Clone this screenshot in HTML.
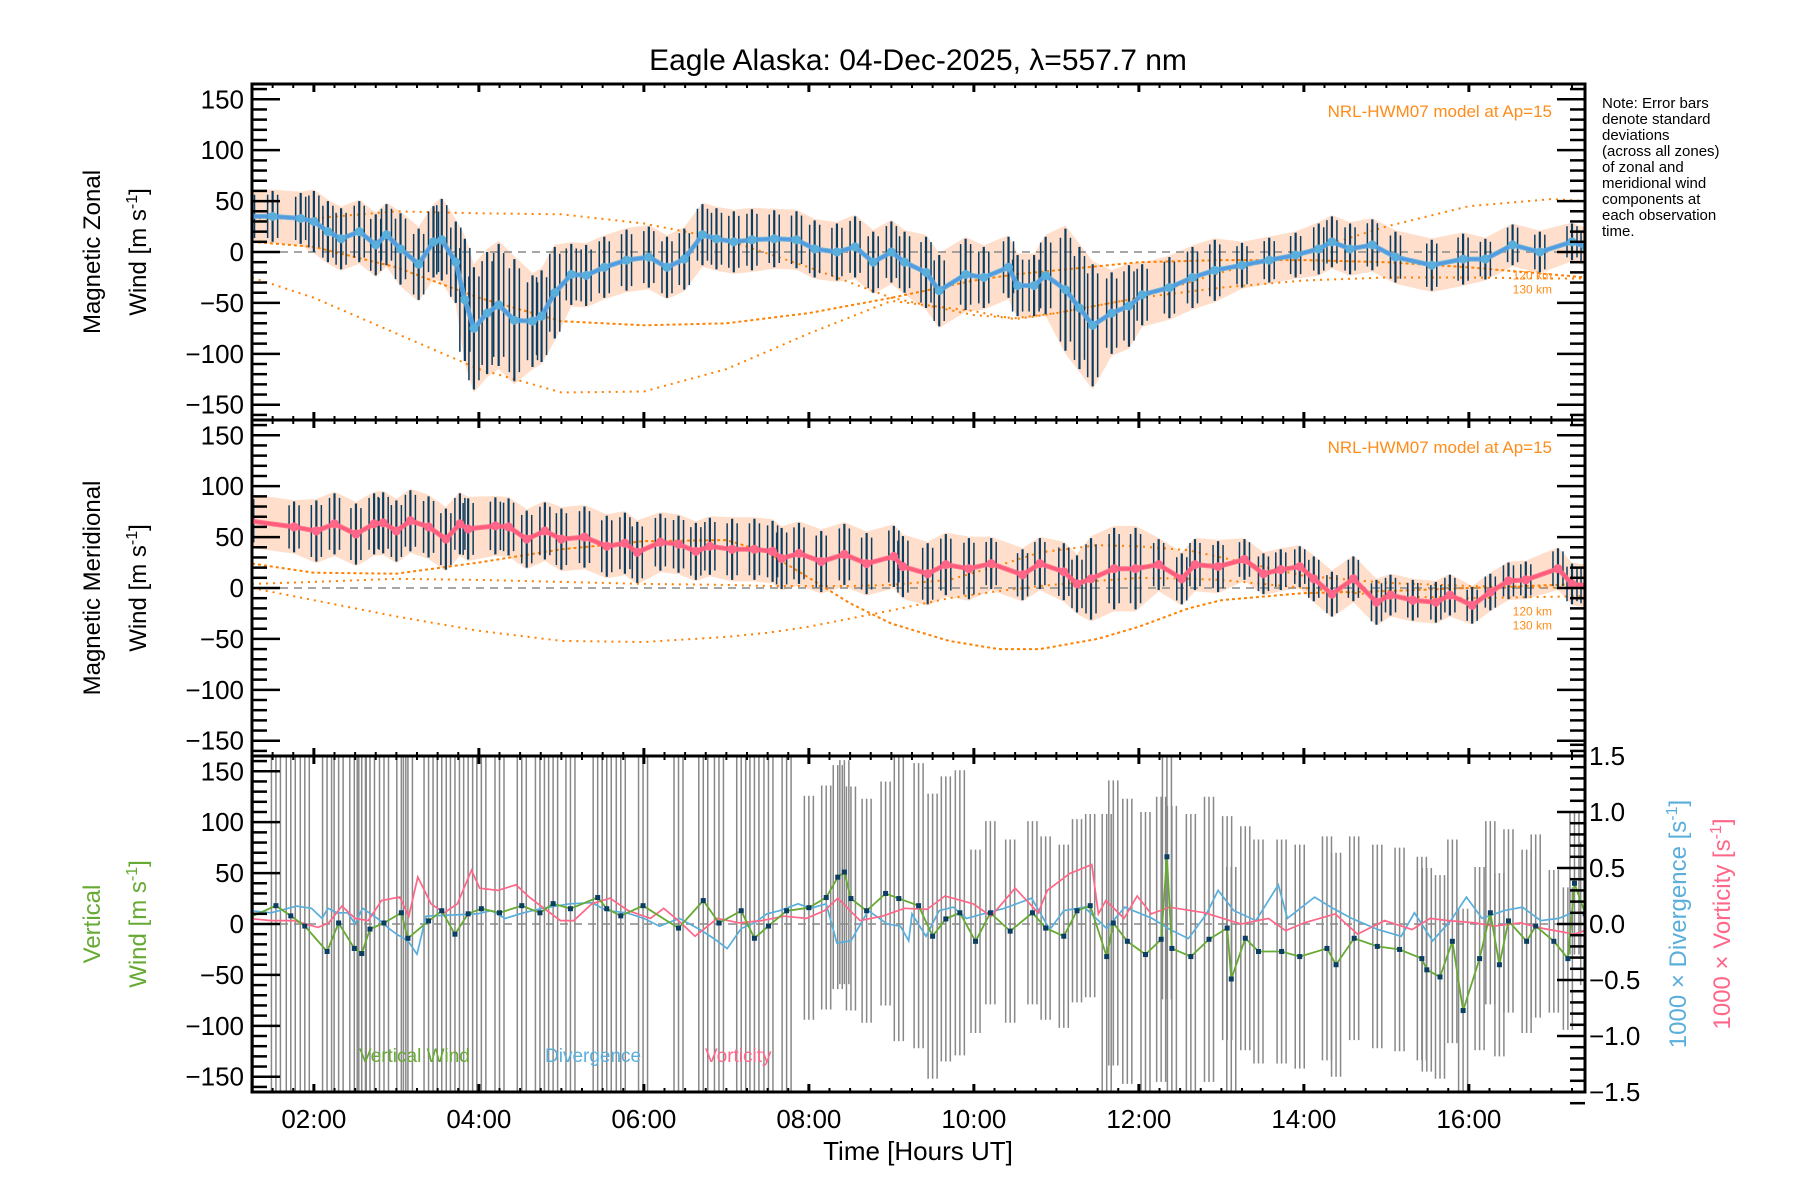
<!DOCTYPE html>
<html><head><meta charset="utf-8"><style>
html,body{margin:0;padding:0;background:#fff}
svg{display:block}
text{font-family:"Liberation Sans",sans-serif}
</style></head><body>
<svg id="chart" width="1800" height="1200" viewBox="0 0 1800 1200" xmlns="http://www.w3.org/2000/svg">
<text x="918" y="70" font-size="30" text-anchor="middle">Eagle Alaska: 04-Dec-2025, λ=557.7 nm</text>
<g font-size="15" fill="#000">
<text x="1602" y="108">Note: Error bars</text>
<text x="1602" y="124">denote standard</text>
<text x="1602" y="140">deviations</text>
<text x="1602" y="156">(across all zones)</text>
<text x="1602" y="172">of zonal and</text>
<text x="1602" y="188">meridional wind</text>
<text x="1602" y="204">components at</text>
<text x="1602" y="220">each observation</text>
<text x="1602" y="236">time.</text>
</g>
<g id="plots"></g>
<g font-size="24">
<text transform="translate(100,252) rotate(-90)" text-anchor="middle">Magnetic Zonal</text>
<text transform="translate(146,252) rotate(-90)" text-anchor="middle">Wind [m s<tspan dy="-9" font-size="16">-1</tspan><tspan dy="9">]</tspan></text>
</g>
<g font-size="24">
<text transform="translate(100,588) rotate(-90)" text-anchor="middle">Magnetic Meridional</text>
<text transform="translate(146,588) rotate(-90)" text-anchor="middle">Wind [m s<tspan dy="-9" font-size="16">-1</tspan><tspan dy="9">]</tspan></text>
</g>
<g font-size="24" fill="#66aa33">
<text transform="translate(100,924) rotate(-90)" text-anchor="middle">Vertical</text>
<text transform="translate(146,924) rotate(-90)" text-anchor="middle">Wind [m s<tspan dy="-9" font-size="16">-1</tspan><tspan dy="9">]</tspan></text>
</g>
<text transform="translate(1686,924) rotate(-90)" text-anchor="middle" font-size="24" fill="#5aaedc">1000 × Divergence [s<tspan dy="-9" font-size="16">-1</tspan><tspan dy="9">]</tspan></text>
<text transform="translate(1730,924) rotate(-90)" text-anchor="middle" font-size="24" fill="#ff6688">1000 × Vorticity [s<tspan dy="-9" font-size="16">-1</tspan><tspan dy="9">]</tspan></text>
<text x="918" y="1160" font-size="26" text-anchor="middle">Time [Hours UT]</text>
<text x="359" y="1062" font-size="19" fill="#66aa33">Vertical Wind</text>
<text x="545" y="1062" font-size="19" fill="#5aaedc">Divergence</text>
<text x="705" y="1062" font-size="19" fill="#ff6688">Vorticity</text>
</svg>
<script>
// ---- data ----
const xTickHours = [2,4,6,8,10,12,14,16];
const xTickLabels = ["02:00","04:00","06:00","08:00","10:00","12:00","14:00","16:00"];
const yTicks = [150,100,50,0,-50,-100,-150];
const rightTicks = [1.5,1.0,0.5,0.0,-0.5,-1.0,-1.5];
const rightTickLabels = ["1.5","1.0","0.5","0.0","-0.5","-1.0","-1.5"];

const zonHours = [1.22,1.5,1.84,2.0,2.17,2.33,2.55,2.75,2.88,3.05,3.27,3.45,3.55,3.72,3.83,3.94,4.1,4.24,4.43,4.65,4.76,4.92,5.12,5.3,5.52,5.79,6.06,6.28,6.49,6.71,6.88,7.09,7.31,7.58,7.85,8.07,8.34,8.56,8.78,9.0,9.16,9.42,9.58,9.9,10.12,10.42,10.53,10.73,10.87,11.11,11.28,11.44,11.67,11.88,12.04,12.37,12.65,12.92,13.25,13.58,13.9,14.18,14.34,14.56,14.83,15.11,15.55,15.93,16.2,16.53,16.86,17.25,17.42];
const zonVals = [35,35,33,30,20,13,20,7,17,3,-12,10,12,-10,-47,-75,-60,-52,-67,-68,-63,-40,-22,-23,-15,-8,-5,-15,-7,17,13,10,12,13,12,3,0,5,-10,0,-10,-20,-38,-22,-25,-15,-33,-33,-23,-37,-55,-72,-60,-53,-42,-35,-25,-18,-13,-8,-3,3,10,3,7,-5,-13,-7,-7,7,0,10,5];
const zonSigHours = [1.2,2,3,3.5,3.8,4.5,5,6,6.7,7.5,8.5,9.3,10,10.8,11.1,11.5,12,13,14,15,16,17];
const zonSig = [25,30,35,40,60,45,30,30,30,28,30,35,30,38,60,40,30,22,25,25,20,18];
const zonModelHours = [1.25,2,3,4,5,6,7,8,9,10,10.5,11,12,13,14,15,16,17,17.42];
const zonModelA = [33,33,40,38,37,28,12,-15,-45,-62,-65,-60,-45,-35,-28,-25,-25,-26,-26];
const zonModelB = [10,5,-15,-45,-68,-72,-70,-60,-45,-28,-22,-18,-10,-8,-8,-10,-15,-22,-25];
const zonModelC = [-25,-45,-80,-115,-138,-137,-115,-80,-48,-58,-66,-60,-45,-20,0,25,45,52,50];

const merHours = [1.21,1.76,2.03,2.25,2.51,2.73,2.84,3.0,3.17,3.39,3.6,3.77,3.87,4.2,4.36,4.58,4.8,5.0,5.28,5.55,5.77,5.92,6.2,6.42,6.63,6.8,7.07,7.34,7.56,7.67,7.88,8.15,8.43,8.7,9.03,9.14,9.44,9.66,9.94,10.21,10.59,10.8,11.09,11.25,11.42,11.7,11.96,12.24,12.52,12.68,12.96,13.28,13.51,13.72,13.95,14.12,14.34,14.6,14.88,15.05,15.32,15.6,15.77,16.04,16.26,16.48,16.69,17.08,17.25,17.42];
const merVals = [66,60,56,63,53,63,64,56,66,60,48,63,58,61,60,48,56,48,50,41,44,35,45,43,36,41,38,38,36,29,34,26,33,24,31,21,14,23,19,24,13,24,16,4,9,19,19,23,9,23,21,28,14,18,21,9,-6,9,-14,-7,-12,-14,-7,-17,-4,7,8,19,4,2];
const merSigHours = [1.2,2,3,4,5,6,7,8,9,10,11,11.3,12,13,14,15,16,17];
const merSig = [25,30,30,28,30,28,30,30,30,25,28,40,25,20,22,20,18,20];
const merModelHours = [1.25,2,3,4,5,6,7,7.5,8,8.5,9,9.7,10.3,10.8,11.5,12,12.6,13,14,15,16,17.42];
const merModelA = [0,-12,-28,-42,-52,-53,-48,-44,-38,-30,-22,-10,-3,2,7,10,9,8,0,-8,-10,-8];
const merModelB = [24,15,14,25,38,46,47,35,10,-15,-35,-52,-60,-60,-50,-38,-20,-12,-5,-3,0,4];
const merModelC = [4,6,9,8,6,4,3,2,2,2,3,8,22,35,42,41,37,30,12,5,2,0];

const vertHours = [1.21,1.54,1.72,1.89,2.16,2.3,2.49,2.58,2.68,2.85,3.06,3.14,3.39,3.55,3.71,3.87,4.03,4.25,4.52,4.74,4.9,5.11,5.44,5.55,5.72,5.99,6.42,6.72,6.91,7.18,7.34,7.51,7.73,8.0,8.21,8.35,8.43,8.51,8.7,8.93,9.09,9.33,9.5,9.66,9.83,10.02,10.2,10.44,10.71,10.87,11.09,11.25,11.41,11.61,11.69,11.86,12.08,12.27,12.34,12.4,12.63,12.85,13.07,13.12,13.29,13.45,13.73,13.95,14.28,14.39,14.61,14.89,15.16,15.43,15.49,15.65,15.8,15.93,16.13,16.26,16.37,16.48,16.7,16.81,17.03,17.2,17.28,17.41];
const vertVals = [6,18,8,-2,-27,1,-24,-29,-5,1,11,-14,3,13,-10,10,15,11,18,11,20,15,26,15,8,18,-4,23,1,13,-14,-2,13,16,26,46,51,25,13,30,25,18,-12,5,11,-17,11,-7,11,-4,-12,13,18,-32,1,-17,-30,-15,66,-24,-32,-15,-4,-54,-14,-27,-27,-32,-24,-40,-14,-22,-25,-34,-45,-52,-17,-85,-34,11,-40,3,-17,-2,-17,-34,40,10];
const vertSigHours = [1.2,4.5,6.5,8,9,10,11.5,13,14.5,16,17];
const vertSig = [260,230,200,110,140,90,140,110,100,90,70];
const divHours = [1.21,1.48,1.79,1.97,2.1,2.17,2.28,2.41,2.5,2.59,2.77,2.91,3.0,3.14,3.25,3.36,3.98,4.15,4.32,4.54,4.77,5.1,5.37,5.55,5.79,6.0,6.19,6.43,6.68,6.85,7.01,7.18,7.34,7.49,7.65,7.87,8.02,8.21,8.34,8.51,8.72,8.95,9.11,9.21,9.25,9.42,9.58,9.75,9.91,10.16,10.37,10.7,10.92,11.09,11.34,11.61,11.83,12.16,12.38,12.6,12.82,12.96,13.15,13.42,13.69,13.8,14.13,14.35,14.58,14.9,15.18,15.34,15.56,15.78,15.97,16.16,16.43,16.65,16.87,17.09,17.25];
const divVals = [0.12,0.10,0.16,0.14,0.05,0.14,0.10,0.10,0.0,0.14,0.05,-0.04,-0.09,-0.15,-0.27,0.07,0.09,0.12,0.05,0.10,0.14,0.18,0.19,0.12,0.10,0.05,-0.02,0.05,-0.05,-0.13,-0.22,-0.04,0.01,0.09,0.12,0.18,0.14,0.18,-0.17,-0.15,0.12,0.0,-0.02,-0.15,0.09,-0.11,0.12,0.15,0.05,0.10,0.14,0.23,-0.05,0.12,0.15,-0.04,0.15,0.05,-0.05,-0.13,0.09,0.30,0.12,0.03,0.35,0.05,0.24,0.14,0.05,-0.05,-0.11,0.10,-0.15,0.03,0.24,0.05,0.12,0.15,0.03,0.05,0.10];
const vortHours = [1.21,1.48,1.75,2.05,2.18,2.34,2.5,2.66,2.82,3.04,3.15,3.26,3.42,3.58,3.74,3.91,4.01,4.23,4.45,4.61,4.77,4.99,5.15,5.37,5.59,5.81,6.08,6.24,6.45,6.62,6.89,7.16,7.43,7.7,7.97,8.19,8.35,8.62,8.89,9.16,9.43,9.65,9.99,10.21,10.5,10.78,10.89,11.16,11.43,11.51,11.6,11.82,11.98,12.15,12.37,12.8,13.02,13.24,13.57,13.78,14.0,14.38,14.65,14.98,15.31,15.53,15.75,16.08,16.3,16.63,16.9,17.28,17.44];
const vortVals = [0.05,0.03,0.03,-0.03,0.01,0.16,0.05,0.03,0.21,0.24,0.07,0.42,0.18,0.10,0.18,0.48,0.32,0.30,0.35,0.24,0.15,0.03,0.03,0.18,0.23,0.12,0.05,0.14,0.01,-0.11,0.05,0.01,0.03,0.07,0.05,0.12,0.23,0.03,0.07,0.14,0.13,0.25,0.18,0.07,0.32,0.10,0.30,0.45,0.53,0.09,0.21,0.05,0.25,0.09,0.15,0.10,0.05,0.0,0.05,-0.06,0.01,0.09,-0.09,0.03,-0.05,0.05,0.03,0.01,-0.02,0.01,-0.04,-0.09,-0.05];

// ---- geometry ----
const NS = "http://www.w3.org/2000/svg";
const X0 = 252, X1 = 1585, H0 = 1.25, PXH = 82.5;
const panels = [84, 420, 756];
const PH = 336;
const xS = h => X0 + (h - H0) * PXH;
const yS = (v, top) => top + PH/2 - v * (PH/330);
const yR = (d, top) => top + PH/2 - d * (PH/3.0);
const root = document.getElementById('plots');
function mk(tag, attrs, parent){const e=document.createElementNS(NS,tag);for(const k in attrs)e.setAttribute(k,attrs[k]);(parent||root).appendChild(e);return e;}
function stepLookup(hs, vs, h){let r=vs[0];for(let i=0;i<hs.length;i++){if(hs[i]<=h)r=vs[i];}return r;}
function pts(hs, vs, f){return hs.map((h,i)=>xS(h).toFixed(1)+','+f(vs[i]).toFixed(1)).join(' ');}

const defs = mk('defs',{});
panels.forEach((top,i)=>{const c=mk('clipPath',{id:'clip'+i},defs);mk('rect',{x:X0,y:top,width:X1-X0,height:PH},c);});

function drawWindPanel(pi, hours, vals, sigH, sig, modelH, models, lineCol, dotCol, name){
  const top = panels[pi];
  const g = mk('g',{'clip-path':'url(#clip'+pi+')'});
  
  
  const up = hours.map((h,i)=>xS(h).toFixed(1)+','+yS(vals[i]+stepLookup(sigH,sig,h)*1.05,top).toFixed(1));
  const dn = hours.map((h,i)=>xS(h).toFixed(1)+','+yS(vals[i]-stepLookup(sigH,sig,h)*1.05,top).toFixed(1)).reverse();
  const band = mk('polygon',{points:up.concat(dn).join(' '),fill:'#ffc9a8','fill-opacity':'0.6'},g);
  
  
  const z = mk('line',{x1:X0,x2:X1,y1:yS(0,top),y2:yS(0,top),stroke:'#888','stroke-width':1.5,'stroke-dasharray':'8,6'},g);
  
  
  models.forEach((m,k)=>{
    const p = mk('polyline',{points:pts(modelH,m,v=>yS(v,top)),fill:'none',stroke:'#ff8000','stroke-width':2,'stroke-dasharray':k==1?'3,3':'2,5'},g);
    
    
  });
  hours.forEach((h,i)=>{
    const s = stepLookup(sigH,sig,h);
    [-5,0,5].forEach((dx,j)=>{
      const f = j===1?1:0.85;
      const b = mk('line',{x1:xS(h)+dx,x2:xS(h)+dx,y1:yS(vals[i]+s*f,top),y2:yS(vals[i]-s*f,top),stroke:'#0a3d62','stroke-width':j===1?2.2:1.5},g);
      
      
    });
  });
  const ln = mk('polyline',{points:pts(hours,vals,v=>yS(v,top)),fill:'none',stroke:lineCol,'stroke-width':3},g);
  
  
  const ln2 = mk('polyline',{points:pts(hours,vals,v=>yS(v,top)),fill:'none',stroke:dotCol,'stroke-width':5,'stroke-linejoin':'round','stroke-opacity':0.85},g);
  
  
  hours.forEach((h,i)=>{
    const c = mk('circle',{cx:xS(h),cy:yS(vals[i],top),r:4.5,fill:dotCol},g);
    
    
  });
  const lab = mk('text',{x:1552,y:top+33,'font-size':17,fill:'#ff8c1a','text-anchor':'end'});
  lab.textContent = 'NRL-HWM07 model at Ap=15';
  
  
  const l1 = mk('text',{x:1552,y:yS(-22,top)+5,'font-size':12,fill:'#ff8c1a','text-anchor':'end'});
  l1.textContent='120 km';
  
  
  const l2 = mk('text',{x:1552,y:yS(-36,top)+5,'font-size':12,fill:'#ff8c1a','text-anchor':'end'});
  l2.textContent='130 km';
  
  
}

drawWindPanel(0, zonHours, zonVals, zonSigHours, zonSig, zonModelHours, [zonModelA,zonModelB,zonModelC], '#2233ff', '#5aaedc', 'zonal');
drawWindPanel(1, merHours, merVals, merSigHours, merSig, merModelHours, [merModelA,merModelB,merModelC], '#ff2233', '#ff6688', 'meridional');

(function(){
  const top = panels[2];
  const g = mk('g',{'clip-path':'url(#clip2)'});
  
  
  vertHours.forEach((h,i)=>{
    const s = stepLookup(vertSigHours,vertSig,h);
    [-4.5,0,4.5].forEach(dx=>{
      const b = mk('line',{x1:xS(h)+dx,x2:xS(h)+dx,y1:yS(vertVals[i]+s,top),y2:yS(vertVals[i]-s,top),stroke:'#888','stroke-width':1.5},g);
      
      
    });
  });
  const z = mk('line',{x1:X0,x2:X1,y1:yS(0,top),y2:yS(0,top),stroke:'#888','stroke-width':1.5,'stroke-dasharray':'8,6'},g);
  
  
  const dv = mk('polyline',{points:pts(divHours,divVals,v=>yR(v,top)),fill:'none',stroke:'#5aaedc','stroke-width':1.7},g);
  
  
  const vt = mk('polyline',{points:pts(vortHours,vortVals,v=>yR(v,top)),fill:'none',stroke:'#ff6688','stroke-width':1.7},g);
  
  
  const vw = mk('polyline',{points:pts(vertHours,vertVals,v=>yS(v,top)),fill:'none',stroke:'#66aa33','stroke-width':1.8},g);
  
  
  vertHours.forEach((h,i)=>{
    const r = mk('rect',{x:xS(h)-2.5,y:yS(vertVals[i],top)-2.5,width:5,height:5,fill:'#0a3d62'},g);
    
    
  });
})();

panels.forEach((top,pi)=>{
  const bot = top+PH;
  const ax = mk('g',{});
  
  
  const fr = mk('rect',{x:X0,y:top,width:X1-X0,height:PH,fill:'none',stroke:'#000','stroke-width':3},ax);
  
  
  for(let h=1.25; h<=17.42; h+=0.25){
    const major = Math.abs(h/2-Math.round(h/2))<1e-6;
    const L = major?8:4;
    mk('line',{x1:xS(h),x2:xS(h),y1:top,y2:top+L,stroke:'#000','stroke-width':major?3:2},ax);
    mk('line',{x1:xS(h),x2:xS(h),y1:bot,y2:bot-L,stroke:'#000','stroke-width':major?3:2},ax);
  }
  for(let v=-160; v<=160; v+=10){
    const major = v%50===0;
    const L = major?28:15;
    const y = yS(v,top);
    mk('line',{x1:X0,x2:X0+L,y1:y,y2:y,stroke:'#000','stroke-width':2.5},ax);
    if(pi<2) mk('line',{x1:X1,x2:X1-L,y1:y,y2:y,stroke:'#000','stroke-width':2.5},ax);
  }
  yTicks.forEach(v=>{
    const t = mk('text',{x:X0-8,y:yS(v,top)+9,'font-size':26,'text-anchor':'end'},ax);
    t.textContent = (v<0?'−':'')+Math.abs(v);
    
    
  });
  if(pi===2){
    for(let d=-1.6; d<=1.6001; d+=0.1){
      const major = Math.abs(d*2-Math.round(d*2))<1e-6;
      const y = yR(d,top);
      mk('line',{x1:X1,x2:X1-(major?28:15),y1:y,y2:y,stroke:'#000','stroke-width':2.5},ax);
    }
    rightTicks.forEach((d,i)=>{
      const t = mk('text',{x:X1+4,y:yR(d,top)+9,'font-size':26},ax);
      t.textContent = rightTickLabels[i].replace('-','−');
      
      
    });
  }
});
xTickHours.forEach((h,i)=>{
  const t = mk('text',{x:xS(h),y:1128,'font-size':26,'text-anchor':'middle'});
  t.textContent = xTickLabels[i];
  
  
});
</script>
</body></html>
